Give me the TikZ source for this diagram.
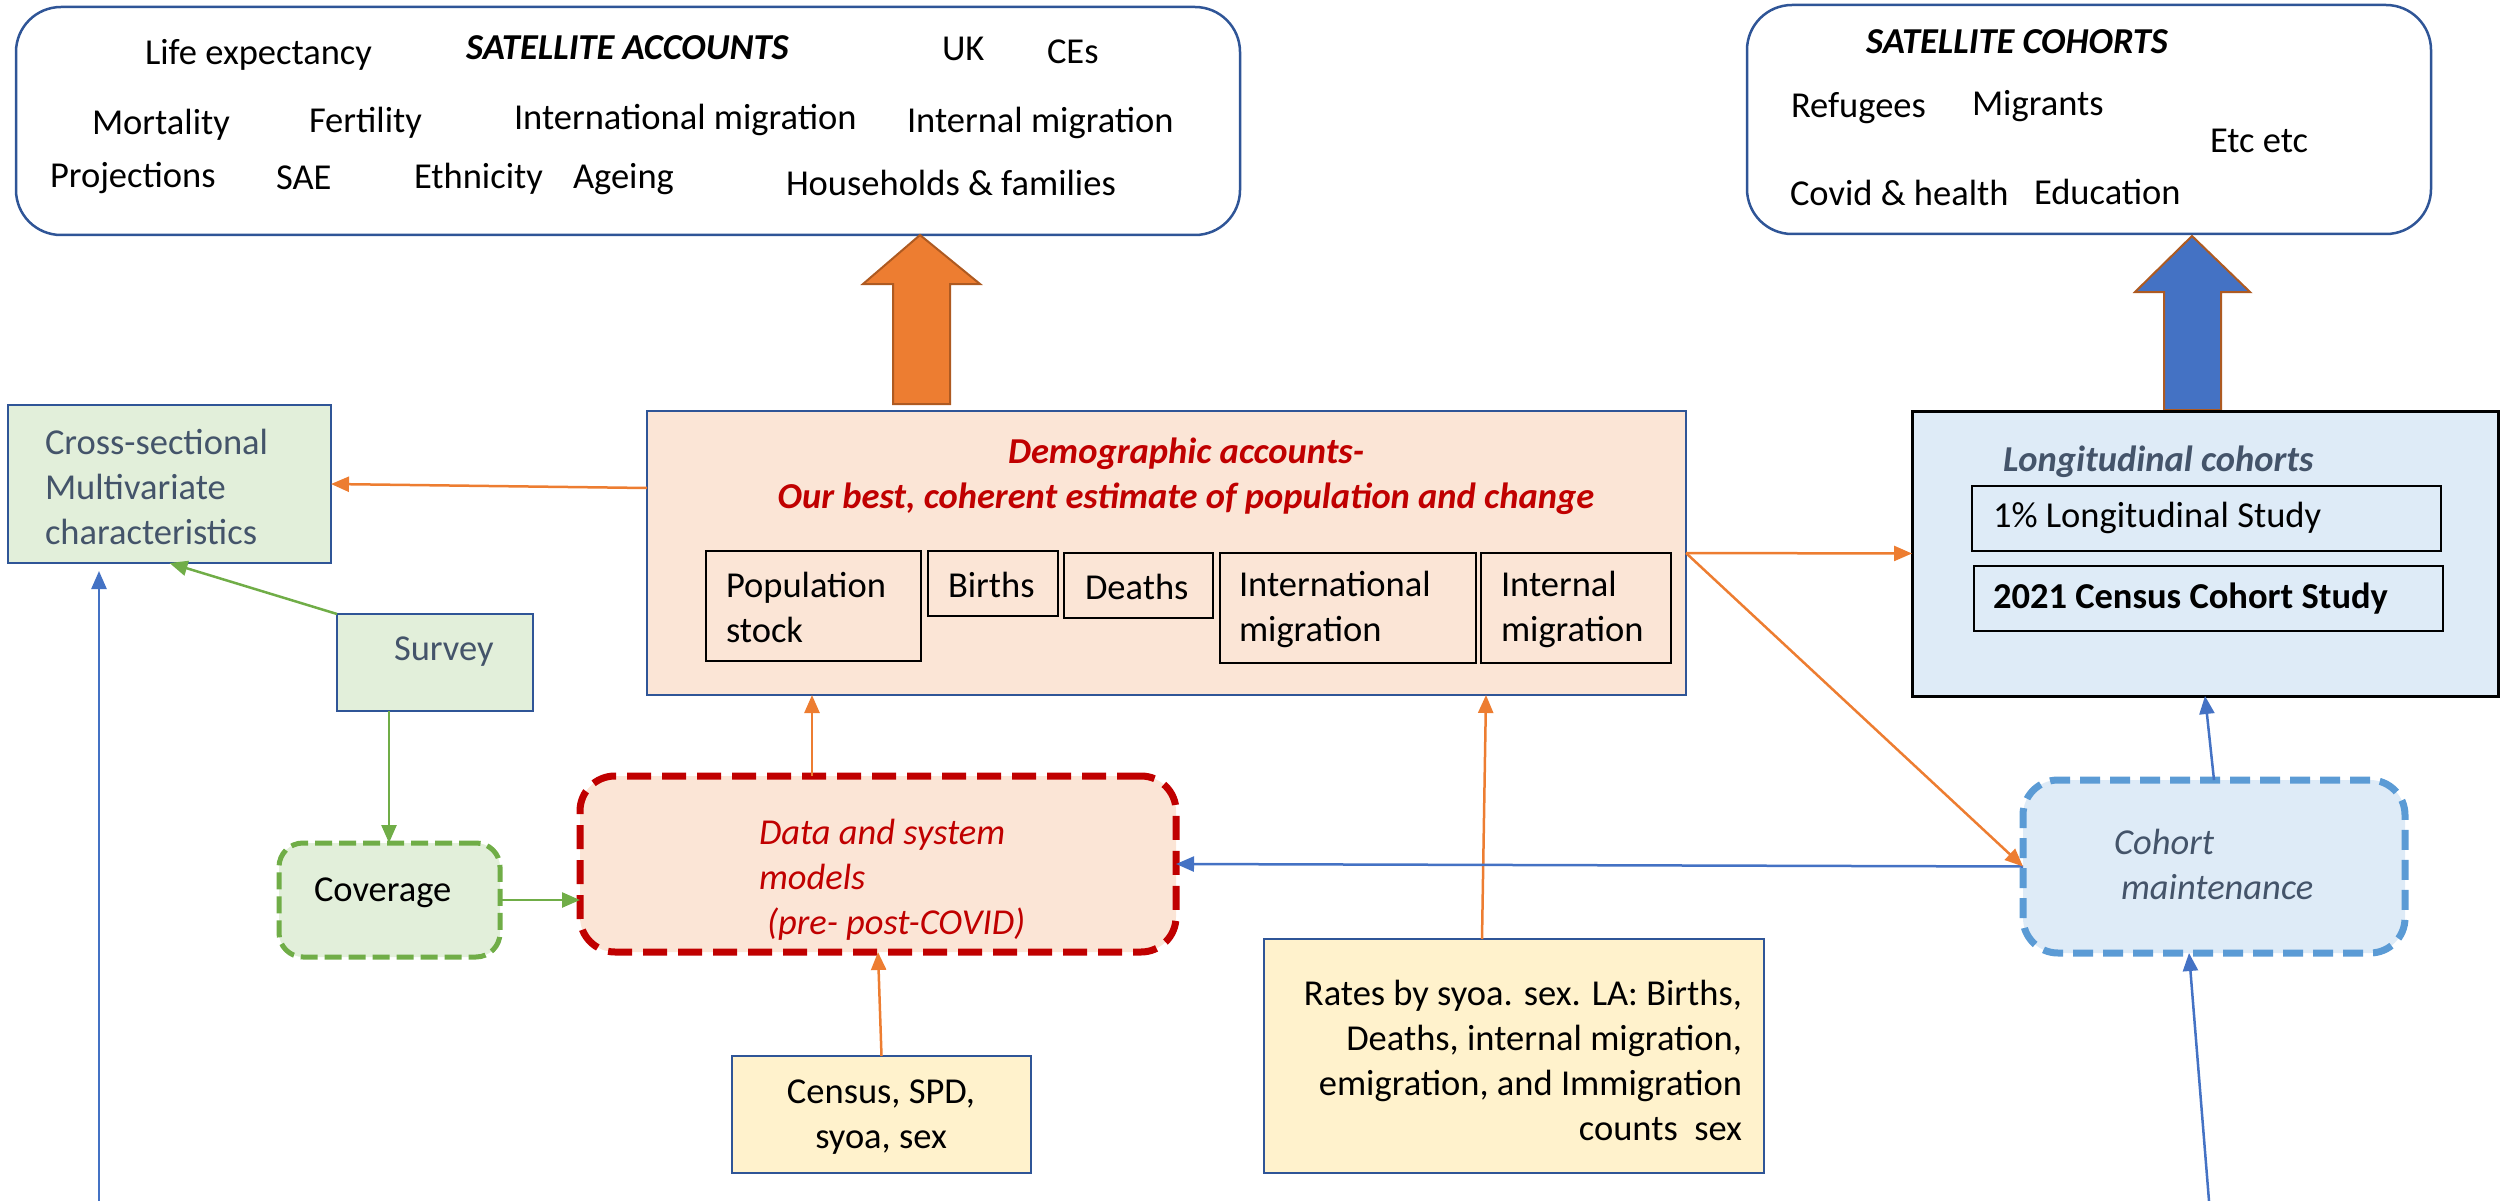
\documentclass[tikz,border=0pt]{standalone}
\usepackage{fontspec}
\setmainfont{Carlito}
\usetikzlibrary{arrows.meta}
\definecolor{boxblue}{HTML}{2F5597}
\definecolor{orng}{HTML}{ED7D31}
\definecolor{orngdark}{HTML}{AE5A21}
\definecolor{arrblue}{HTML}{4472C4}
\definecolor{grn}{HTML}{70AD47}
\definecolor{dred}{HTML}{C00000}
\definecolor{peach}{HTML}{FBE5D6}
\definecolor{lgreen}{HTML}{E2EFDA}
\definecolor{lblue}{HTML}{DEEBF7}
\definecolor{lyellow}{HTML}{FFF2CC}
\definecolor{dashblue}{HTML}{5B9BD5}
\definecolor{slate}{HTML}{44546A}
\newcommand\fsz{\fontsize{36.5}{45}\selectfont}
\begin{document}
\begin{tikzpicture}[x=1pt,y=-1pt,
  every node/.style={font=\fsz},
  boxbase/.style={inner sep=0pt, outer sep=0pt, line width=2.5pt},
  satbox/.style={boxbase, draw=boxblue, fill=white, rounded corners=45pt},
  plainbox/.style={boxbase, draw=boxblue},
  subbox/.style={boxbase, draw=black, line width=2pt},
  txt/.style={inner sep=0pt, outer sep=0pt},
  conn/.style={line width=2.5pt, -{Triangle[length=18pt,width=15pt]}},
  oconn/.style={conn, draw=orng, fill=orng},
  gconn/.style={conn, draw=grn, fill=grn},
  bconn/.style={conn, draw=arrblue, fill=arrblue},
]
\useasboundingbox (0,0) rectangle (2501,1201);

% ---------- satellite accounts ----------
\node[satbox, minimum width=1224pt, minimum height=228pt] (satA) at (628,121) {};
\node[txt, anchor=west] (tLife) at (145,55) {Life expectancy};
\node[txt, anchor=west] (tSA) at (466,48) {\bfseries\itshape SATELLITE ACCOUNTS};
\node[txt, anchor=west] (tUK) at (942,49) {UK};
\node[txt, anchor=west] (tCE) at (1047,52) {CEs};
\node[txt, anchor=west] (tMort) at (92,125) {Mortality};
\node[txt, anchor=west] (tFert) at (309,123) {Fertility};
\node[txt, anchor=west] (tIntl) at (514,120) {International migration};
\node[txt, anchor=west] (tInt) at (907,123) {Internal migration};
\node[txt, anchor=west] (tProj) at (50,178) {Projections};
\node[txt, anchor=west] (tSAE) at (276,178) {SAE};
\node[txt, anchor=west] (tEth) at (414,179) {Ethnicity};
\node[txt, anchor=west] (tAge) at (573,179) {Ageing};
\node[txt, anchor=west] (tHH) at (786,183) {Households \& families};

% ---------- satellite cohorts ----------
\node[satbox, minimum width=684pt, minimum height=229pt] (satC) at (2089,119.5) {};
\node[txt, anchor=west] (tSC) at (1866,42) {\bfseries\itshape SATELLITE COHORTS};
\node[txt, anchor=west] (tRef) at (1791,108) {Refugees};
\node[txt, anchor=west] (tMig) at (1972,106) {Migrants};
\node[txt, anchor=west] (tEtc) at (2210,141) {Etc etc};
\node[txt, anchor=west] (tCov) at (1790,193) {Covid \& health};
\node[txt, anchor=west] (tEdu) at (2034,192) {Education};

% ---------- big block arrows ----------
\draw[fill=orng, draw=orngdark, line width=2pt, line join=miter]
  (920,235) -- (980,284) -- (950,284) -- (950,404) -- (893,404) -- (893,284) -- (863,284) -- cycle;
\draw[fill=arrblue, draw=orngdark, line width=2pt, line join=miter]
  (2192,236) -- (2250,292) -- (2221,292) -- (2221,410) -- (2164,410) -- (2164,292) -- (2135,292) -- cycle;

% ---------- cross-sectional ----------
\node[plainbox, fill=lgreen, minimum width=323pt, minimum height=158pt] (cross) at (169.5,484) {};
\node[txt, anchor=west, align=left, text=slate] (tCross) at (45,487) {Cross-sectional\\Multivariate\\characteristics};

\node[plainbox, fill=lgreen, minimum width=196pt, minimum height=97pt] (survey) at (435,662.5) {};
\node[txt, anchor=west, text=slate] (tSurvey) at (394,652) {Survey};

\node[boxbase, draw=grn, fill=lgreen, line width=5pt, dash pattern=on 17pt off 7pt, rounded corners=24pt,
      minimum width=221pt, minimum height=114pt] (coverage) at (389.5,900) {};
\node[txt, anchor=west] (tCoverage) at (314,893) {Coverage};

% ---------- demographic accounts ----------
\node[plainbox, fill=peach, minimum width=1039pt, minimum height=284pt] (demo) at (1166.5,553) {};
\node[txt, align=center, text=dred, font=\fsz\bfseries\itshape] (tDemo) at (1186,476)
  {Demographic accounts-\\Our best, coherent estimate of population and change};
\node[subbox, minimum width=215pt, minimum height=110pt] (bPop) at (813.5,606) {};
\node[subbox, minimum width=130pt, minimum height=65pt] (bBirths) at (993,583.5) {};
\node[subbox, minimum width=149pt, minimum height=65pt] (bDeaths) at (1138.5,585.5) {};
\node[subbox, minimum width=256pt, minimum height=110pt] (bIntl) at (1348,608) {};
\node[subbox, minimum width=190pt, minimum height=110pt] (bInt) at (1576,608) {};
\node[txt, anchor=west, align=left] (tPop) at (726,607) {Population\\stock};
\node[txt, anchor=west] (tBirths) at (948,585) {Births};
\node[txt, anchor=west] (tDeaths) at (1085,587) {Deaths};
\node[txt, anchor=west, align=left] (tIntlm) at (1239,609) {International\\migration};
\node[txt, anchor=west, align=left] (tIntm) at (1501,609) {Internal\\migration};

% ---------- data and system models ----------
\node[boxbase, draw=dred, fill=peach, line width=7pt, dash pattern=on 24pt off 11pt, rounded corners=35pt,
      minimum width=596pt, minimum height=176pt] (data) at (878,864) {};
\node[txt, anchor=west, align=left, text=dred, font=\fsz\itshape] (tData) at (759,880)
  {Data and system\\models\\\hspace*{8pt}(pre- post-COVID)};

\node[plainbox, fill=lyellow, minimum width=299pt, minimum height=117pt] (census) at (881.5,1114.5) {};
\node[txt, align=center] (tCensus) at (881,1117) {Census, SPD,\\syoa, sex};

\node[plainbox, fill=lyellow, minimum width=500pt, minimum height=234pt] (rates) at (1514,1056) {};
\node[txt, anchor=east, align=right] (tRates) at (1742,1060)
  {Rates by syoa. sex. LA: Births,\\Deaths, internal migration,\\emigration, and Immigration\\counts\ \ sex};

% ---------- longitudinal cohorts ----------
\node[boxbase, draw=black, line width=3pt, fill=lblue, minimum width=586pt, minimum height=285pt] (longit) at (2205,553.5) {};
\node[txt, anchor=west, text=slate, font=\fsz\bfseries\itshape] (tLongit) at (2003,462) {Longitudinal cohorts};
\node[subbox, minimum width=469pt, minimum height=65pt] (ls1) at (2206.5,518.5) {};
\node[subbox, minimum width=469pt, minimum height=65pt] (ls2) at (2208.5,598.5) {};
\node[txt, anchor=west] (tLs1) at (1993,518) {1\% Longitudinal Study};
\node[txt, anchor=west, font=\fsz\bfseries] (tLs2) at (1993,599) {2021 Census Cohort Study};

\node[boxbase, draw=dashblue, fill=lblue, line width=7pt, dash pattern=on 20pt off 10pt, rounded corners=35pt,
      minimum width=382pt, minimum height=173pt] (cohort) at (2214,866.5) {};
\node[txt, anchor=west, align=left, text=slate, font=\fsz\itshape] (tCohort) at (2114,864)
  {Cohort\\\hspace*{7pt}maintenance};

% ---------- connectors ----------
\coordinate (bl) at (99,1201);
\coordinate (br) at (2209,1201);

\draw[oconn] ([yshift=65pt]demo.west) -- (cross.east);
\draw[gconn] (survey.north west) -- (cross.south);
\draw[gconn] ([xshift=-46pt]survey.south) -- ([xshift=-46pt]survey.south |- coverage.north);
\draw[gconn] (coverage.east) -- ([yshift=-36pt]data.west);
\draw[bconn] (bl) -- ([yshift=-8pt]bl |- cross.south);
\draw[oconn] ([xshift=-66pt]data.north) -- ([xshift=-66pt]data.north |- demo.south);
\draw[oconn] (census.north) -- (data.south);
\draw[oconn] ([xshift=-32pt]rates.north) -- ([xshift=-28pt]rates.north |- demo.south);
\draw[bconn] (cohort.west) -- (data.east);
\draw[oconn] (demo.east) -- (longit.west);
\draw[oconn] (demo.east) -- (cohort.west);
\draw[bconn] (cohort.north) -- (longit.south);
\draw[bconn] (br) -- ([xshift=-25pt]cohort.south);
\end{tikzpicture}
\end{document}
